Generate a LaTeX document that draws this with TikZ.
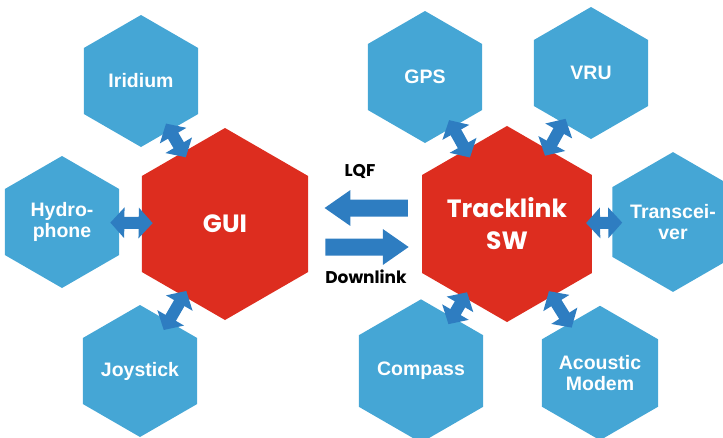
\documentclass[tikz,border=0pt]{standalone}
\usepackage{fontspec}
\newfontfamily\labelfont{Liberation Sans}
\newfontfamily\geofont{Poppins}
\usetikzlibrary{shapes.geometric, arrows.meta}

\definecolor{hexblue}{RGB}{69,166,213}
\definecolor{corered}{RGB}{221,45,31}
\definecolor{linkblue}{RGB}{46,125,193}

\begin{document}
\begin{tikzpicture}[
    x=1pt, y=-1pt,
    hexa/.style={regular polygon, regular polygon sides=6, shape border rotate=30, inner sep=0pt, minimum size=132pt, fill=hexblue, text=white, align=center, font=\labelfont\bfseries\fontsize{19.5}{20.5}\selectfont},
    core/.style={hexa, minimum size=192pt, fill=corered, font=\geofont\bfseries\fontsize{25}{32}\selectfont},
    link/.style={draw=linkblue, line width=12pt, {Triangle[width=30pt,length=14pt]}-{Triangle[width=30pt,length=14pt]}},
    flow/.style={draw=linkblue, line width=17pt, -{Triangle[width=34pt,length=26pt]}},
    caption/.style={font=\geofont\bfseries\fontsize{17}{17}\selectfont}
]
\clip (0,0) rectangle (723,437);

% centre pieces
\node (gui) [core] at (225,224) {GUI};
\node (trk) [core] at (507,224) {Tracklink\\SW};

% devices round the GUI
\node (ir) [hexa] at (141,81) {Iridium};
\node (hyd) [hexa] at (62,222) {Hydro-\\phone};
\node (joy) [hexa] at (140,371) {Joystick};

% devices round the software
\node (gps) [hexa] at (425,77) {GPS};
\node (vru) [hexa] at (591,73) {VRU};
\node (trx) [hexa] at (673,222) {Transcei-\\ver};
\node (cmp) [hexa] at (421,371) {Compass};
\node (aco) [hexa] at (600,373) {Acoustic\\Modem};

% links
\draw[link, shorten <=-8pt, shorten >=-6pt] (ir) -- (gui);
\draw[link, shorten <=-9pt, shorten >=-11pt] (hyd) -- (gui);
\draw[link, shorten <=-10pt, shorten >=-6pt] (joy) -- (gui);
\draw[link, shorten <=-8pt, shorten >=-9pt] (gps) -- (trk);
\draw[link, shorten <=-5pt, shorten >=-7pt] (vru) -- (trk);
\draw[link, shorten <=-10pt, shorten >=-6pt] (trx) -- (trk);
\draw[link, shorten <=-8pt, shorten >=-6pt] (cmp) -- (trk);
\draw[link, shorten <=-5pt, shorten >=-6pt] (aco) -- (trk);

% data flow between GUI and software
\draw[flow, shorten <=14pt, shorten >=16pt] ([yshift=16pt]trk.west) -- ([yshift=16pt]gui.east);
\draw[flow, shorten <=17pt, shorten >=13pt] ([yshift=-23pt]gui.east) -- ([yshift=-23pt]trk.west);
\node (lqf) [caption] at (360,171) {LQF};
\node (down) [caption] at (366,277) {Downlink};

\end{tikzpicture}
\end{document}
